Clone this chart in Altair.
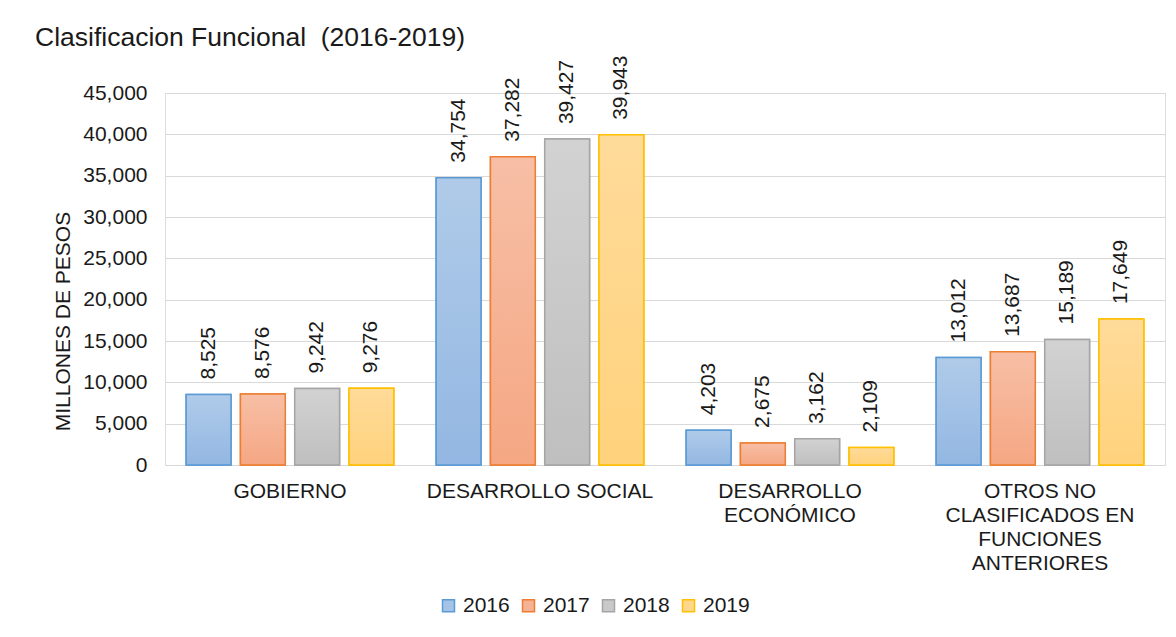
import altair as alt
import pandas as pd

categories = ["GOBIERNO", "DESARROLLO SOCIAL", "DESARROLLO|ECONÓMICO",
              "OTROS NO|CLASIFICADOS EN|FUNCIONES|ANTERIORES"]
years = ["2016", "2017", "2018", "2019"]
v2016 = [8525, 34754, 4203, 13012]
v2017 = [8576, 37282, 2675, 13687]
v2018 = [9242, 39427, 3162, 15189]
v2019 = [9276, 39943, 2109, 17649]
y_ticks = [0, 5000, 10000, 15000, 20000, 25000, 30000, 35000, 40000, 45000]

stroke_colors = ["#5b9bd5", "#ed7d31", "#a5a5a5", "#ffc000"]
top_colors = ["#b0cbe9", "#f7bfa6", "#d2d2d2", "#ffdb9a"]
bottom_colors = ["#93b7e2", "#f5a783", "#bfbfbf", "#ffd27c"]
legend_fill = ["#a5c3e6", "#f6b394", "#c9c9c9", "#ffd78c"]

series = {"2016": v2016, "2017": v2017, "2018": v2018, "2019": v2019}
rows = []
for yr, vals in series.items():
    for c, v in zip(categories, vals):
        rows.append({"cat": c, "year": yr, "value": v})
df = pd.DataFrame(rows)

FONT = "Liberation Sans"
TXT = "#1a1a1a"

x_enc = alt.X("cat:N", sort=categories,
              scale=alt.Scale(paddingInner=0, paddingOuter=0),
              axis=alt.Axis(title=None, labelAngle=0, ticks=False,
                            domainColor="#d9d9d9", domainWidth=1,
                            labelExpr="split(datum.label, '|')",
                            labelFontSize=21, labelFont=FONT, labelColor=TXT,
                            labelBaseline="top", labelPadding=15,
                            labelLineHeight=24.3, labelLimit=0,
                            labelOverlap=False))
xo_enc = alt.XOffset("year:N", sort=years,
                     scale=alt.Scale(domain=years, paddingInner=0.174,
                                     paddingOuter=0.39))
y_enc = alt.Y("value:Q", scale=alt.Scale(domain=[0, 45000], nice=False),
              axis=alt.Axis(values=y_ticks, format=",d", ticks=False,
                            domain=False, gridColor="#d9d9d9", gridWidth=1,
                            labelFontSize=21, labelFont=FONT, labelColor=TXT,
                            labelPadding=18,
                            title="MILLONES DE PESOS", titleFont=FONT,
                            titleFontSize=21, titleFontWeight="normal",
                            titleColor=TXT, titleX=-102, titleY=228,
                            titleAngle=270, titleAlign="center",
                            titleBaseline="middle"))

base = alt.Chart(df).encode(x=x_enc, xOffset=xo_enc, y=y_enc)

legend_args = dict(title=None, orient="none", legendX=273, legendY=502,
                   direction="horizontal", symbolType="square",
                   symbolSize=144, symbolStrokeWidth=1.5, symbolOpacity=1,
                   labelFontSize=21, labelFont=FONT, labelColor=TXT,
                   labelOffset=4, columnPadding=8, padding=0)

legend_layer = base.mark_bar(strokeWidth=1.5).encode(
    fill=alt.Fill("year:N", sort=years,
                  scale=alt.Scale(domain=years, range=legend_fill),
                  legend=alt.Legend(**legend_args)),
    stroke=alt.Stroke("year:N", sort=years,
                      scale=alt.Scale(domain=years, range=stroke_colors),
                      legend=alt.Legend(**legend_args)),
)

layers = [legend_layer]
for i, yr in enumerate(years):
    grad = alt.Gradient(
        gradient="linear", x1=0, x2=0, y1=0, y2=1,
        stops=[alt.GradientStop(color=top_colors[i], offset=0),
               alt.GradientStop(color=bottom_colors[i], offset=1)])
    layers.append(
        base.transform_filter(alt.datum.year == yr)
        .mark_bar(fill=grad, stroke=stroke_colors[i], strokeWidth=1.5)
    )

labels = base.mark_text(angle=270, align="left", baseline="middle", dx=15,
                        fontSize=21, font=FONT, color=TXT).encode(
    text=alt.Text("value:Q", format=",d"))
layers.append(labels)

chart = alt.layer(*layers).properties(
    width=1000, height=372,
    title=alt.Title("Clasificacion Funcional\u00a0 (2016-2019)", anchor="start",
                    frame="group", dx=-130, offset=-17, baseline="alphabetic",
                    fontSize=26.5, fontWeight="normal", font=FONT, color=TXT),
    autosize=alt.AutoSizeParams(type="none"),
    padding={"left": 157, "top": 85, "right": 3, "bottom": 160},
).configure_view(stroke=None).configure(font=FONT)

chart.save("out.html", embed_options={"renderer": "svg", "actions": False})
